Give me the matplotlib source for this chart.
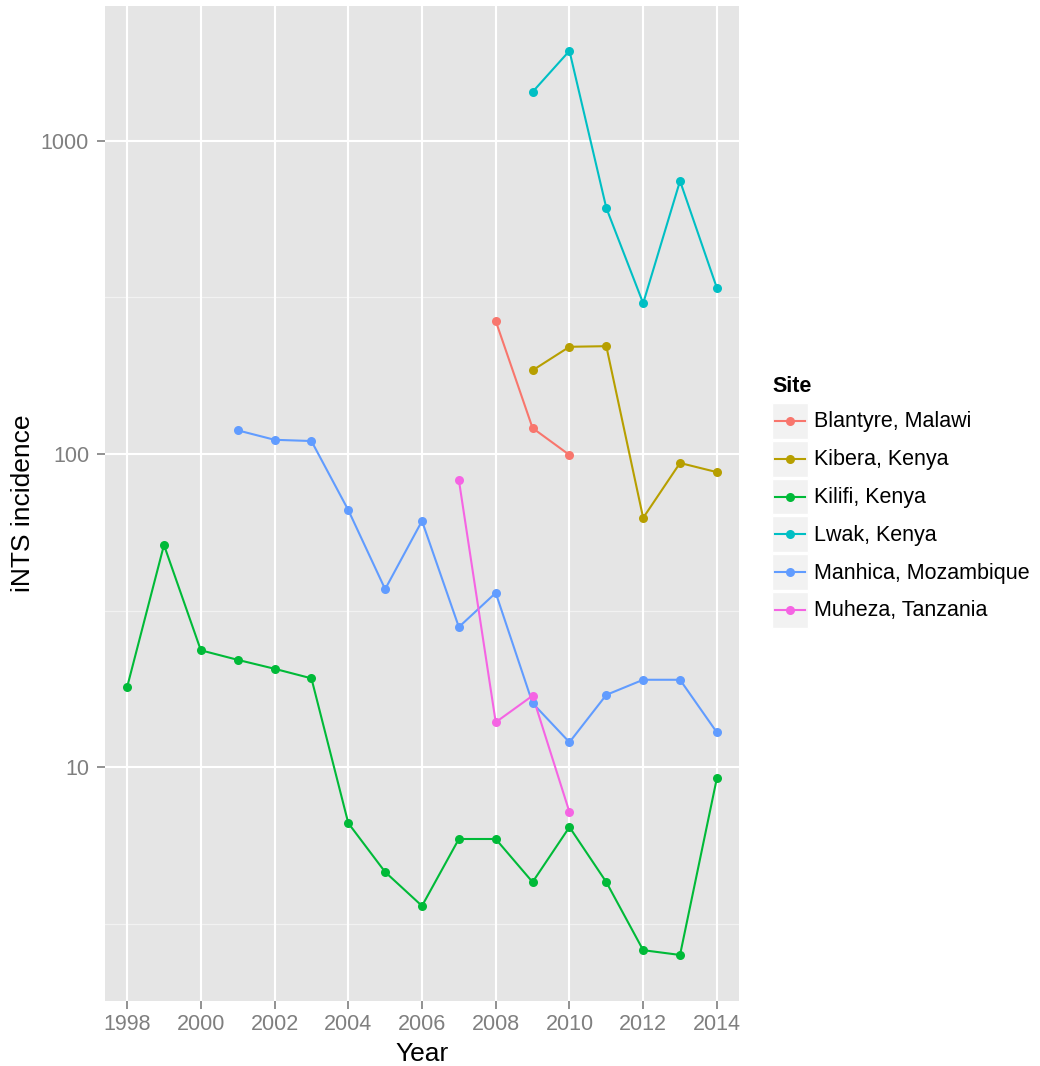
import matplotlib
matplotlib.use("Agg")
import matplotlib.pyplot as plt
import numpy as np
from matplotlib.patches import Rectangle
from matplotlib.lines import Line2D

plt.rcParams['font.family'] = ['Liberation Sans', 'DejaVu Sans']

sites = ["Blantyre, Malawi", "Kibera, Kenya", "Kilifi, Kenya", "Lwak, Kenya",
         "Manhica, Mozambique", "Muheza, Tanzania"]
colors = ["#F8766D", "#B79F00", "#00BA38", "#00BFC4", "#619CFF", "#F564E3"]

blantyre_years = [2008, 2009, 2010]
blantyre_vals = [266, 121, 99.3]

kibera_years = [2009, 2010, 2011, 2012, 2013, 2014]
kibera_vals = [185, 220, 221, 62.5, 93.6, 87.5]

kilifi_years = list(range(1998, 2015))
kilifi_vals = [18.0, 51.2, 23.6, 22.0, 20.6, 19.2, 6.62, 4.62, 3.60, 5.89,
               5.89, 4.29, 6.43, 4.29, 2.60, 2.51, 9.22]

lwak_years = [2009, 2010, 2011, 2012, 2013, 2014]
lwak_vals = [1434, 1940, 611, 303, 745, 339]

manhica_years = list(range(2001, 2015))
manhica_vals = [119, 111, 110, 66.2, 37.0, 61.1, 28.0, 36.0, 16.0, 12.0,
                17.0, 19.0, 19.0, 12.9]

muheza_years = [2007, 2008, 2009, 2010]
muheza_vals = [82.6, 13.9, 16.9, 7.18]

series = [(blantyre_years, blantyre_vals), (kibera_years, kibera_vals),
          (kilifi_years, kilifi_vals), (lwak_years, lwak_vals),
          (manhica_years, manhica_vals), (muheza_years, muheza_vals)]

x_ticks = [1998, 2000, 2002, 2004, 2006, 2008, 2010, 2012, 2014]
y_ticks = [10, 100, 1000]
y_tick_labels = ["10", "100", "1000"]

W, H = 1040, 1066
fig = plt.figure(figsize=(W / 100, H / 100), dpi=100)
left, right, top, bottom = 105, 739, 6, 1001
ax = fig.add_axes([left / W, (H - bottom) / H, (right - left) / W, (bottom - top) / H])
ax.set_facecolor("#E5E5E5")
ax.set_yscale("log")
ax.set_xlim(1997.4, 2014.6)
ax.set_ylim(1.789, 2698)

# gridlines
for yv in [10 ** 0.5, 10 ** 1.5, 10 ** 2.5]:
    ax.axhline(yv, color="#F2F2F2", lw=0.9, zorder=0.5)
for yv in y_ticks:
    ax.axhline(yv, color="white", lw=1.5, zorder=0.6)
for xv in x_ticks:
    ax.axvline(xv, color="white", lw=1.5, zorder=0.6)

for (xs, ys), c in zip(series, colors):
    ax.plot(xs, ys, color=c, lw=1.5, zorder=2)
    ax.plot(xs, ys, 'o', color=c, ms=6.5, mec='none', zorder=3)

ax.set_xticks(x_ticks)
ax.set_xticklabels([str(v) for v in x_ticks])
ax.set_yticks(y_ticks)
ax.set_yticklabels(y_tick_labels)
ax.yaxis.set_minor_locator(matplotlib.ticker.NullLocator())
ax.tick_params(axis='both', colors="#7F7F7F", labelcolor="#7F7F7F", labelsize=15.5,
               length=5.5, width=1.2, pad=4)
ax.tick_params(axis='y', pad=6)
for s in ax.spines.values():
    s.set_visible(False)

ax.set_xlabel("Year", fontsize=19, color="black", labelpad=5)
ax.set_ylabel("iNTS incidence", fontsize=19, color="black", labelpad=4)

# legend
lax = fig.add_axes([0, 0, 1, 1], facecolor='none')
lax.set_xlim(0, W)
lax.set_ylim(H, 0)
lax.axis('off')
lax.text(772, 386, "Site", fontsize=15.5, fontweight='bold', va='center', ha='left')
key_x0, key_w = 772, 36
row_h = 37.8
y0 = 403
for i, (name, c) in enumerate(zip(sites, colors)):
    yt = y0 + i * row_h
    lax.add_patch(Rectangle((key_x0, yt), key_w, row_h - 2, facecolor="#F2F2F2",
                            edgecolor='white', lw=1))
    yc = yt + (row_h - 2) / 2
    lax.add_line(Line2D([key_x0 + 3, key_x0 + key_w - 3], [yc, yc], color=c, lw=1.5))
    lax.plot([key_x0 + key_w / 2], [yc], 'o', color=c, ms=6.5, mec='none')
    lax.text(814, yc + 1, name, fontsize=15.5, va='center', ha='left', color='black')

fig.savefig("out.png", dpi=100)
